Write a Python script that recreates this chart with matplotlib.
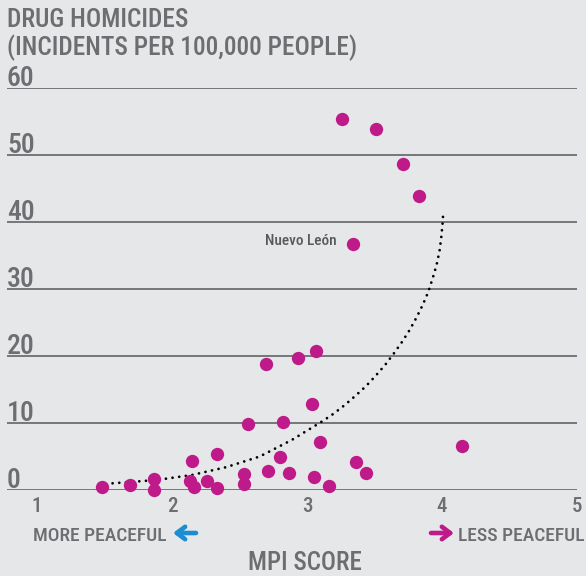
import matplotlib
matplotlib.use("Agg")
import matplotlib.pyplot as plt
import matplotlib.transforms as mtransforms
from matplotlib.patches import FancyArrowPatch

# ---------------- data ----------------
mpi_score = [1.48, 1.69, 1.87, 1.87, 2.13, 2.16, 2.15, 2.26, 2.33, 2.33,
             2.53, 2.53, 2.56, 2.71, 2.80, 2.82, 2.87, 3.04, 3.10, 3.05,
             3.16, 3.36, 3.44, 4.15, 3.26, 3.51, 3.71, 3.83, 3.34, 2.70,
             2.93, 3.07]
drug_homicides = [0.4, 0.8, 1.6, 0.0, 1.4, 0.4, 4.4, 1.4, 0.3, 5.4,
                  2.4, 0.85, 9.85, 2.8, 5.0, 10.1, 2.6, 12.8, 7.2, 2.0,
                  0.6, 4.2, 2.6, 6.6, 55.4, 53.9, 48.7, 43.9, 36.7, 18.8,
                  19.7, 20.7]
labelled_state = "Nuevo León"
labelled_index = 28

trend_x = [1.56, 1.89, 2.15, 2.40, 2.65, 2.89, 3.024, 3.113, 3.198, 3.281,
           3.361, 3.437, 3.511, 3.58, 3.644, 3.704, 3.761, 3.81, 3.857,
           3.899, 3.931, 3.96, 3.982, 3.995, 4.005, 4.008]
trend_y = [1.0, 1.5, 2.25, 3.4, 5.0, 7.5, 9.15, 10.25, 11.4, 12.7,
           14.1, 15.5, 17.1, 18.7, 20.4, 22.1, 23.9, 25.7, 27.6,
           29.6, 31.6, 33.6, 35.7, 37.8, 39.95, 41.0]

x_ticks = [1, 2, 3, 4, 5]
x_tick_labels = ["1", "2", "3", "4", "5"]
y_ticks = [0, 10, 20, 30, 40, 50, 60]
y_tick_labels = ["0", "10", "20", "30", "40", "50", "60"]

title_lines = ["DRUG HOMICIDES", "(INCIDENTS PER 100,000 PEOPLE)"]
x_title = "MPI SCORE"
left_note = "MORE PEACEFUL"
right_note = "LESS PEACEFUL"

# ---------------- style ----------------
BG = "#e6e7e8"
GRAY = "#6d6e71"
DARK = "#58595b"
MAGENTA = "#be1a8a"
BLUE = "#1b8dd3"
FONT = ["Roboto Condensed", "DejaVu Sans"]
WEIGHT = 500
plt.rcParams["font.family"] = FONT
plt.rcParams["font.weight"] = WEIGHT

W, H = 586, 576
fig = plt.figure(figsize=(W / 100, H / 100), dpi=100)
fig.patch.set_facecolor(BG)


def fpos(px, py):
    return px / W, 1 - py / H


ax_left, ax_right, ax_top, ax_bottom = 7, 577, 88, 490
ax = fig.add_axes([ax_left / W, 1 - ax_bottom / H,
                   (ax_right - ax_left) / W, (ax_bottom - ax_top) / H])
ax.set_facecolor(BG)
ax.set_xlim(0.778, 5.0)
ax.set_ylim(0, 60)
for s in ax.spines.values():
    s.set_visible(False)

ax.set_yticks(y_ticks)
ax.set_yticklabels([])
ax.tick_params(axis="y", length=0)
ax.yaxis.grid(True, color=GRAY, linewidth=1.3)
ax.set_axisbelow(True)

ax.set_xticks(x_ticks)
ax.set_xticklabels(x_tick_labels, fontsize=15, color=GRAY, fontweight=WEIGHT)
ax.tick_params(axis="x", length=0, pad=5)

# y labels sitting on the gridlines
blend = mtransforms.blended_transform_factory(ax.transAxes, ax.transData)
lift = mtransforms.ScaledTranslation(0, 1.2 / 72, fig.dpi_scale_trans)
for v, lab in zip(y_ticks, y_tick_labels):
    ax.text(0.0, v, lab, transform=blend + lift, ha="left", va="baseline",
            fontsize=20, color=GRAY, fontweight=WEIGHT, clip_on=False)

# trend line
ax.plot(trend_x, trend_y, color="black", linewidth=2.0,
        linestyle=(0, (0.01, 2.4)), dash_capstyle="round", zorder=2)

# points
ax.scatter(mpi_score, drug_homicides, s=92, color=MAGENTA, linewidths=0,
           zorder=3, clip_on=False)

ax.annotate(labelled_state,
            (mpi_score[labelled_index], drug_homicides[labelled_index]),
            xytext=(-11.5, 2), textcoords="offset points",
            ha="right", va="center", fontsize=11, color=DARK,
            fontweight=WEIGHT)

# titles
fig.text(*fpos(7, 27), title_lines[0], fontsize=18.3, color=GRAY,
         ha="left", va="baseline", fontweight=WEIGHT)
fig.text(*fpos(7, 55), title_lines[1], fontsize=18.3, color=GRAY,
         ha="left", va="baseline", fontweight=WEIGHT)

# direction notes
fig.text(*fpos(33, 541), left_note, fontsize=14, color=GRAY,
         ha="left", va="baseline", fontweight=WEIGHT)
fig.text(*fpos(584, 541), right_note, fontsize=14, color=GRAY,
         ha="right", va="baseline", fontweight=WEIGHT)
fig.add_artist(FancyArrowPatch(
    fpos(196, 533), fpos(173, 533), transform=fig.transFigure,
    arrowstyle="->,head_length=6,head_width=4.5", color=BLUE, linewidth=3.3,
    mutation_scale=1, shrinkA=0, shrinkB=0))
fig.add_artist(FancyArrowPatch(
    fpos(431, 533), fpos(454, 533), transform=fig.transFigure,
    arrowstyle="->,head_length=6,head_width=4.5", color=MAGENTA, linewidth=3.3,
    mutation_scale=1, shrinkA=0, shrinkB=0))

fig.text(*fpos(305, 570), x_title, fontsize=18, color=GRAY,
         ha="center", va="baseline", fontweight=WEIGHT)

fig.savefig("out.png", dpi=100, facecolor=BG)
